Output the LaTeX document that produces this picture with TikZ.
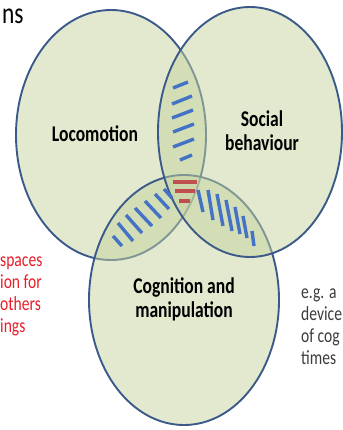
\documentclass[tikz,border=0pt]{standalone}
\usepackage{fontspec}
\setmainfont{Carlito}[FakeStretch = 0.78]
\definecolor{venngreen}{RGB}{197,211,159}
\definecolor{vennblue}{RGB}{59,90,138}
\definecolor{hatchblue}{RGB}{68,114,196}
\definecolor{hatchred}{RGB}{192,80,77}
\definecolor{notered}{RGB}{232,30,40}
\definecolor{notegray}{RGB}{60,60,60}

\begin{document}
\begin{tikzpicture}[x = 1pt, y = -1pt,
  venn/.style = {fill = venngreen, fill opacity = 0.5, draw = vennblue, line width = 1.9pt},
  vennlabel/.style = {font = \fontsize{22.5}{24}\selectfont\bfseries, align = center},
  bluedash/.style = {draw = hatchblue, line width = 3.4pt},
  reddash/.style = {draw = hatchred, line width = 3.4pt},
  sidenote/.style = {font = \fontsize{20}{22}\selectfont, anchor = base west, inner sep = 0pt}]
  \useasboundingbox (0, 0) rectangle (342, 430);

  % タイトルの切れ端
  \node[anchor = base west, inner sep = 0pt, font = \fontsize{30}{30}\selectfont] (title) at (2, 24) {ns};

  % 楕円 (左, 下, 右の順)
  \draw[venn] (111, 135) ellipse [x radius = 95pt, y radius = 125pt];
  \draw[venn] (184, 300) ellipse [x radius = 95pt, y radius = 125pt];
  \draw[venn] (250, 132) ellipse [x radius = 92pt, y radius = 125pt];

  % 上の重なり
  \foreach \a/\b/\c/\d in {173/88/188/82, 172/104/192/96, 172/118/193/110,
                           173/132/194/124, 173/147/194/139, 180/160/192/155}
    \draw[bluedash] (\a, \b) -- (\c, \d);

  % 中央 (赤)
  \foreach \a/\b/\c/\d in {173/182/197/182, 175/191/195/191, 179/201/190/201}
    \draw[reddash] (\a, \b) -- (\c, \d);

  % 左下の重なり
  \foreach \a/\b/\c/\d in {113/236/122/246, 118/223/133/241, 126/215/142/233,
                           135/208/152/226, 145/201/161/218, 155/194/169/209, 164/189/172/198}
    \draw[bluedash] (\a, \b) -- (\c, \d);

  % 右下の重なり
  \foreach \a/\b/\c/\d in {198/190/203/212, 208/190/213/220, 217/194/223/226,
                           226/200/232/231, 235/207/240/234, 243/216/247/238, 252/231/254/246}
    \draw[bluedash] (\a, \b) -- (\c, \d);

  % ラベル
  \node[vennlabel] (loco) at (95, 134) {Locomotion};
  \node[vennlabel] (social) at (262, 131) {Social\\behaviour};
  \node[vennlabel] (cogn) at (184, 299) {Cognition and\\manipulation};

  % 左の赤い文
  \node[sidenote, text = notered] (redA) at (0, 266) {spaces};
  \node[sidenote, text = notered] (redB) at (0, 288) {ion for};
  \node[sidenote, text = notered] (redC) at (0, 310) {others};
  \node[sidenote, text = notered] (redD) at (0, 332) {ings};

  % 右の文
  \node[sidenote, text = notegray] (noteA) at (301, 298) {e.g. a};
  \node[sidenote, text = notegray] (noteB) at (301, 320) {device};
  \node[sidenote, text = notegray] (noteC) at (301, 342) {of cog};
  \node[sidenote, text = notegray] (noteD) at (301, 364) {times};
\end{tikzpicture}
\end{document}
